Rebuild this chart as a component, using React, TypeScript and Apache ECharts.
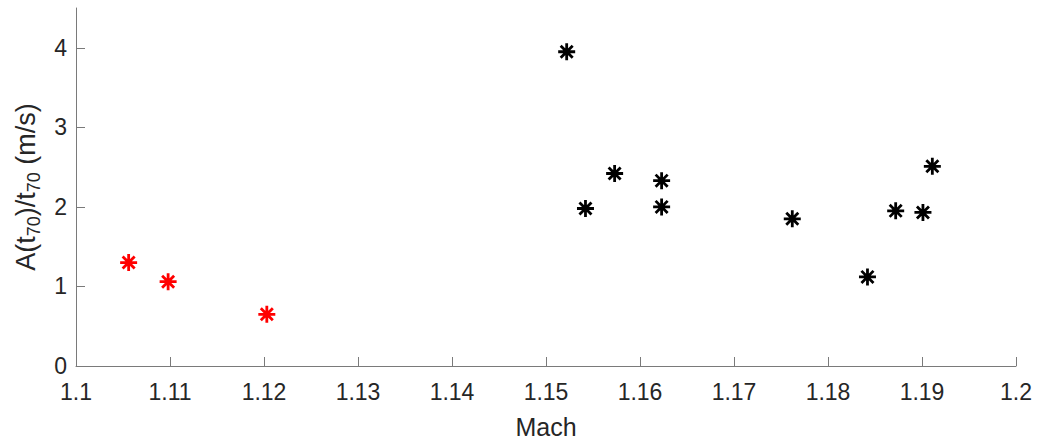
import React, { useEffect, useRef } from "react";
import * as echarts from "echarts";

const redMach = [1.1056, 1.1098, 1.1203];
const redValues = [1.30, 1.06, 0.65];
const blackMach = [1.1522, 1.1542, 1.1573, 1.1623, 1.1623, 1.1762, 1.1842, 1.1872, 1.1901, 1.1911];
const blackValues = [3.95, 1.98, 2.42, 2.33, 2.00, 1.85, 1.12, 1.95, 1.93, 2.51];
const xTicks = [1.1, 1.11, 1.12, 1.13, 1.14, 1.15, 1.16, 1.17, 1.18, 1.19, 1.2];
const yTicks = [0, 1, 2, 3, 4];

const STAR = "path://M0,8L16,8M8,0L8,16M2.34,2.34L13.66,13.66M2.34,13.66L13.66,2.34";
const FONT = "Liberation Sans, Arial, sans-serif";

export default function App() {
  const ref = useRef<HTMLDivElement>(null);
  useEffect(() => {
    if (!ref.current) return;
    const chart = echarts.init(ref.current, null, { renderer: "svg" });
    const axisColor = "#7a7a7a";
    const textColor = "#262626";
    chart.setOption({
      animation: false,
      backgroundColor: "#ffffff",
      grid: { left: 76, right: 22, top: 8, bottom: 73, containLabel: false, outerBoundsMode: "none" },
      xAxis: {
        type: "value",
        min: 1.1,
        max: 1.2,
        name: "Mach",
        nameLocation: "middle",
        nameGap: 48,
        nameTextStyle: { fontSize: 25, color: textColor, fontFamily: FONT },
        axisLine: { show: true, onZero: false, lineStyle: { color: axisColor, width: 1 } },
        axisTick: { show: true, inside: true, length: 9, customValues: xTicks, lineStyle: { color: axisColor } },
        axisLabel: {
          customValues: xTicks,
          fontSize: 23,
          color: textColor,
          fontFamily: FONT,
          margin: 14,
          formatter: (v: number) => String(parseFloat(v.toFixed(2))),
        },
        splitLine: { show: false },
      },
      yAxis: {
        type: "value",
        min: 0,
        max: 4.5,
        name: "{m|A(t}{s|70}{m|)/t}{s|70}{m| (m/s)}",
        nameLocation: "middle",
        nameRotate: 90,
        nameGap: 33,
        nameTextStyle: {
          color: textColor,
          fontFamily: FONT,
          rich: {
            m: { fontSize: 27, lineHeight: 34, color: textColor, fontFamily: FONT, verticalAlign: "middle" },
            s: { fontSize: 18, lineHeight: 18, color: textColor, fontFamily: FONT, verticalAlign: "bottom" },
          },
        },
        axisLine: { show: true, onZero: false, lineStyle: { color: axisColor, width: 1 } },
        axisTick: { show: true, inside: true, length: 9, customValues: yTicks, lineStyle: { color: axisColor } },
        axisLabel: { customValues: yTicks, fontSize: 23, color: textColor, fontFamily: FONT, margin: 9 },
        splitLine: { show: false },
      },
      series: [
        {
          type: "scatter",
          data: redMach.map((x, i) => [x, redValues[i]]),
          symbol: STAR,
          symbolSize: 17,
          itemStyle: { color: "none", borderColor: "#ff0000", borderWidth: 2.8, opacity: 1 },
        },
        {
          type: "scatter",
          data: blackMach.map((x, i) => [x, blackValues[i]]),
          symbol: STAR,
          symbolSize: 17,
          itemStyle: { color: "none", borderColor: "#000000", borderWidth: 2.8, opacity: 1 },
        },
      ],
    });
    return () => chart.dispose();
  }, []);
  return (
    <div
      ref={ref}
      style={{ position: "fixed", left: 0, top: 0, width: 1038, height: 439, background: "#fff" }}
    />
  );
}
